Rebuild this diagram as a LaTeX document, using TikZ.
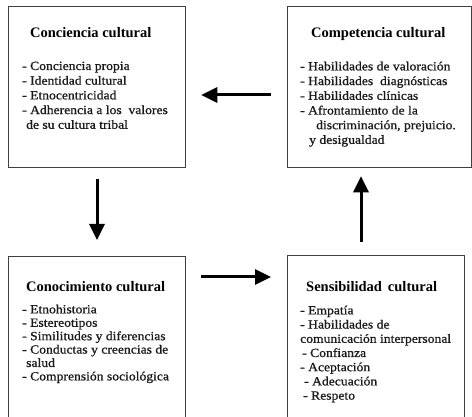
\documentclass[tikz,border=0pt]{standalone}
\usepackage{fontspec}
\setmainfont{Liberation Serif}
\newfontfamily\bodyfont[FakeStretch=1.09,FakeBold=0.8]{Liberation Serif}
\usetikzlibrary{arrows.meta}
\tikzset{
  box/.style={draw=black!75, line width=1.3pt, fill=white, inner sep=0pt, anchor=north west},
  ttl/.style={anchor=base west, inner sep=0pt, text=black, font=\fontsize{14.5}{17}\selectfont\bfseries},
  body/.style={anchor=north west, inner sep=0pt, align=left, text=black!90, font=\bodyfont\fontsize{12.5}{14.7}\selectfont},
  arr/.style={line width=3pt, -{Triangle[length=16pt,width=15pt]}}
}
\begin{document}
\begin{tikzpicture}[x=1pt,y=-1pt]
\useasboundingbox (0,0) rectangle (472,417);
% boxes
\node[box, minimum width=177pt, minimum height=161pt] (b1) at (8,6) {};
\node[box, minimum width=184pt, minimum height=161pt] (b2) at (287,6) {};
\node[box, minimum width=177pt, minimum height=163pt] (b3) at (8,256) {};
\node[box, minimum width=177pt, minimum height=164pt] (b4) at (287,255) {};
% titles
\node[ttl] (t1) at (30,38) {Conciencia cultural};
\node[ttl] (t2) at (311,38) {Competencia cultural};
\node[ttl] (t3) at (26,291) {Conocimiento cultural};
\node[ttl] (t4) at (306,292) {Sensibilidad\, cultural};
% bodies
\node[body] (l1) at (22,61.5) {- Conciencia propia\\- Identidad cultural\\- Etnocentricidad\\- Adherencia a los\ \ valores\\\hspace{4pt}de su cultura tribal};
\node[body] (l2) at (300,61.5) {- Habilidades de valoración\\- Habilidades\ \ diagnósticas\\- Habilidades clínicas\\- Afrontamiento de la\\\hspace{16pt}discriminación, prejuicio.\\\hspace{9pt}y desigualdad};
\node[body, font=\bodyfont\fontsize{12.5}{13.4}\selectfont] (l3) at (22,304.5) {- Etnohistoria\\- Estereotipos\\- Similitudes y diferencias\\- Conductas y creencias de\\\hspace{4pt}salud\\- Comprensión sociológica};
\node[body, font=\bodyfont\fontsize{12.5}{14.2}\selectfont] (l4) at (300,305.5) {- Empatía\\- Habilidades de\\comunicación interpersonal\\\hspace{2pt}- Confianza\\- Aceptación\\\hspace{4pt}- Adecuación\\\hspace{3pt}- Respeto};
% arrows
\coordinate (ra) at (0,95);
\coordinate (rb) at (0,277);
\coordinate (ca) at (97,0);
\coordinate (cb) at (361,0);
\draw[arr, shorten <=16pt, shorten >=15pt] (b2.west |- ra) -- (b1.east |- ra);
\draw[arr, shorten <=11pt, shorten >=16pt] (b1.south -| ca) -- (b3.north -| ca);
\draw[arr, shorten <=15pt, shorten >=16pt] (b3.east |- rb) -- (b4.west |- rb);
\draw[arr, shorten <=13pt, shorten >=8pt] (b4.north -| cb) -- (b2.south -| cb);
\end{tikzpicture}
\end{document}
